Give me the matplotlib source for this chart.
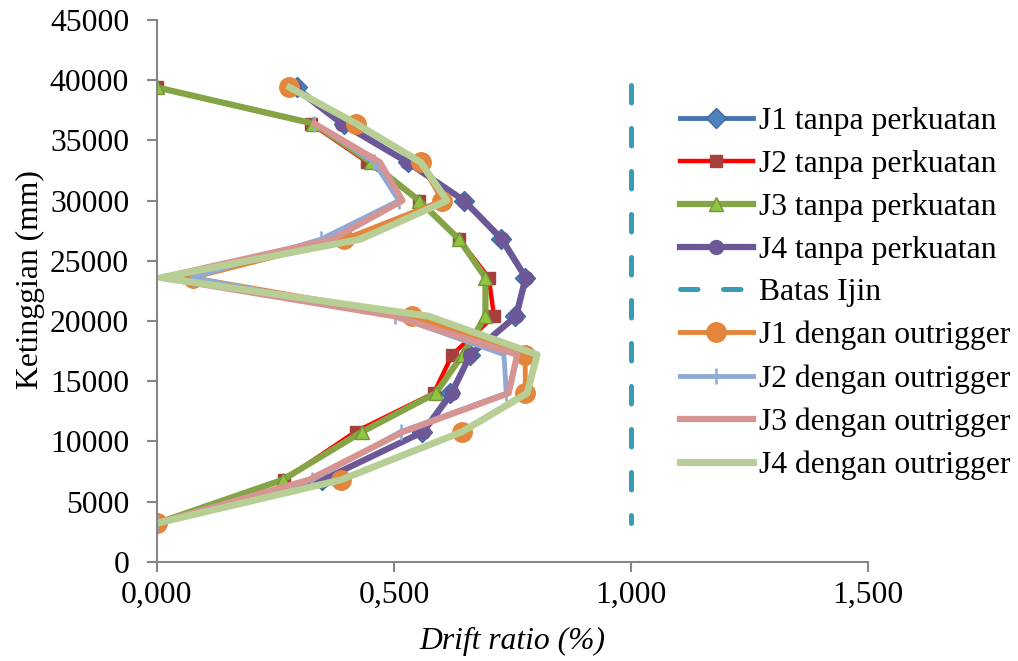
import numpy as np
import matplotlib
matplotlib.use('Agg')
from matplotlib import pyplot as plt
from matplotlib.ticker import FuncFormatter

# tinggi lantai (mm)
tinggi = [3200, 6800, 10800, 14000, 17200, 20400, 23600, 26800, 30000, 33200, 36400, 39400]

# drift ratio (%) - tanpa perkuatan
j1_tanpa = [0, 0.349, 0.560, 0.619, 0.661, 0.756, 0.777, 0.725, 0.647, 0.530, 0.395, 0.295]
j2_tanpa = [0, 0.268, 0.419, 0.584, 0.623, 0.711, 0.700, 0.637, 0.553, 0.444, 0.325, 0.0]
j3_tanpa = [0, 0.265, 0.433, 0.588, 0.645, 0.693, 0.693, 0.637, 0.553, 0.451, 0.330, 0.0]
j4_tanpa = [0, 0.350, 0.562, 0.622, 0.661, 0.758, 0.778, 0.728, 0.648, 0.528, 0.390, 0.290]

# drift ratio (%) - dengan outrigger
j1_outrigger = [0, 0.388, 0.644, 0.777, 0.777, 0.539, 0.075, 0.395, 0.602, 0.556, 0.419, 0.278]
j2_outrigger = [0, 0.328, 0.514, 0.737, 0.732, 0.503, 0.075, 0.346, 0.510, 0.458, 0.332, np.nan]
j3_outrigger = [0, 0.320, 0.520, 0.742, 0.760, 0.500, 0.010, 0.370, 0.518, 0.470, 0.332, np.nan]
j4_outrigger = [0, 0.388, 0.644, 0.781, 0.802, 0.573, 0.008, 0.430, 0.612, 0.556, 0.420, 0.280]

# batas ijin drift
batas_x = [1.0, 1.0]
batas_y = [39600, 3200]

x_ticks = [0, 0.5, 1.0, 1.5]
y_ticks = list(range(0, 45001, 5000))

plt.rcParams['font.family'] = ['Liberation Serif', 'DejaVu Serif']
fs = 22.8

fig = plt.figure(figsize=(10.18, 6.61), dpi=100)
ax = fig.add_axes([0.1542, 0.1502, 0.6984, 0.8195])

ax.plot(j1_tanpa, tinggi, color='#4674B0', lw=3.5, marker='D', ms=10,
        mfc='#4F81BD', mec='#3B6AA0', label='J1 tanpa perkuatan')
ax.plot(j2_tanpa, tinggi, color='#FF0000', lw=3.2, marker='s', ms=9,
        mfc='#A5403D', mec='#A5403D', label='J2 tanpa perkuatan')
ax.plot(j3_tanpa, tinggi, color='#84A446', lw=4.5, marker='^', ms=10,
        mfc='#8EC63F', mec='#76923C', label='J3 tanpa perkuatan')
ax.plot(j4_tanpa, tinggi, color='#6C5797', lw=4.5, marker='o', ms=10,
        mfc='#6C5797', mec='#6C5797', label='J4 tanpa perkuatan')
ax.plot(batas_x, batas_y, color='#3A9BB5', lw=3.6, ls=(0, (3.5, 5.1)),
        dash_capstyle='round', label='Batas Ijin')
ax.plot(j1_outrigger, tinggi, color='#E3853B', lw=3.5, marker='o', ms=14,
        mfc='#E3853B', mec='#E3853B', label='J1 dengan outrigger')
ax.plot(j2_outrigger, tinggi, color='#8FAAD6', lw=3.5, marker='|', ms=12, mew=1.8,
        mec='#8FAAD6', label='J2 dengan outrigger')
ax.plot(j3_outrigger, tinggi, color='#D69593', lw=4.5, label='J3 dengan outrigger')
ax.plot(j4_outrigger, tinggi, color='#B7CF94', lw=5, label='J4 dengan outrigger')

ax.set_xlim(0, 1.5)
ax.set_ylim(0, 45000)
ax.set_xticks(x_ticks)
ax.set_yticks(y_ticks)
ax.xaxis.set_major_formatter(FuncFormatter(lambda v, p: f'{v:.3f}'.replace('.', ',')))

for s in ['top', 'right']:
    ax.spines[s].set_visible(False)
for s in ['left', 'bottom']:
    ax.spines[s].set_color('#868686')
    ax.spines[s].set_linewidth(1.5)
ax.tick_params(axis='both', colors='#868686', labelcolor='black', width=1.5,
               length=7, labelsize=fs, direction='out')
ax.tick_params(axis='y', pad=13)
ax.tick_params(axis='x', pad=7)

ax.set_xlabel('Drift ratio (%)', fontsize=fs, style='italic')
ax.set_ylabel('Ketinggian (mm)', fontsize=fs)
ax.xaxis.set_label_coords(0.5, -0.12)
ax.yaxis.set_label_coords(-0.158, 0.52)

ax.legend(loc='upper left', bbox_to_anchor=(0.668, 0.838), bbox_transform=fig.transFigure,
          frameon=False, fontsize=fs, handlelength=2.3, handletextpad=0.2,
          labelspacing=0.43, borderpad=0, borderaxespad=0)

fig.savefig('out.png', dpi=100)
